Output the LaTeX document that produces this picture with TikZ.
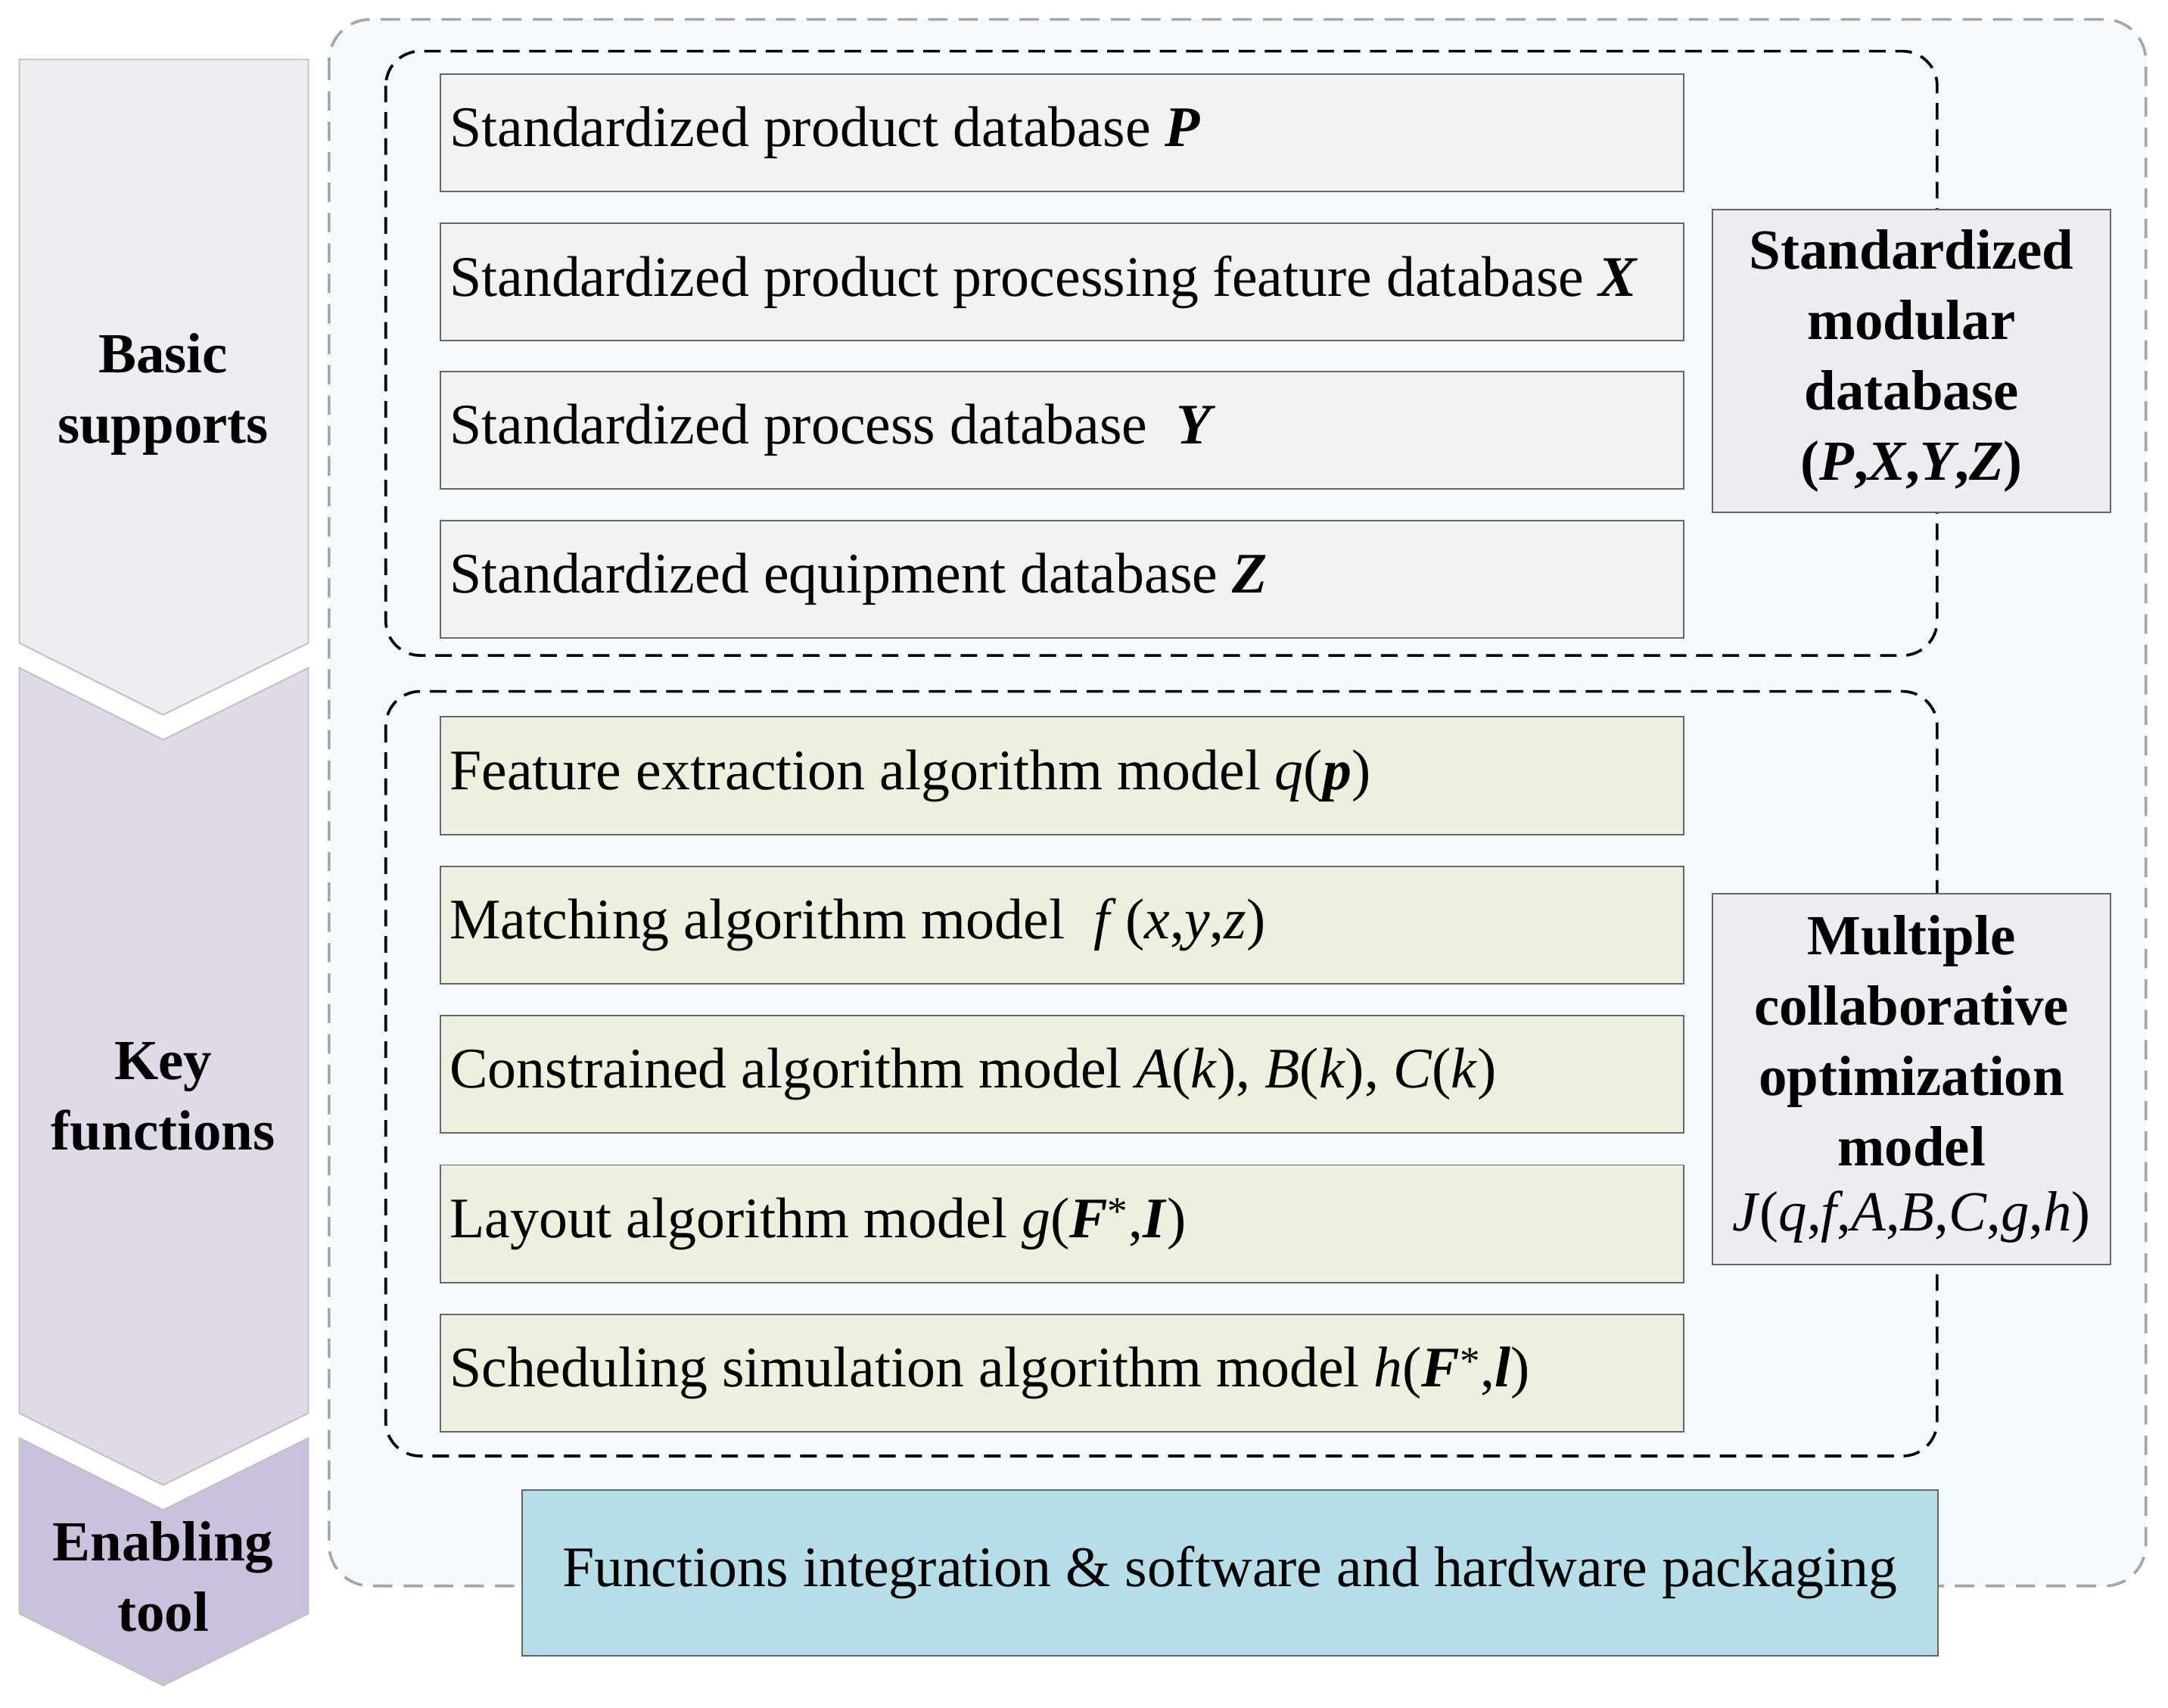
\documentclass[tikz,border=0pt]{standalone}
\usepackage{fontspec}
\setmainfont{Liberation Serif}
\begin{document}
\begin{tikzpicture}[x=1pt,y=-1pt,
  box/.style={draw=gray!80!black,line width=1pt,anchor=north west,inner sep=0pt},
  txt/.style={anchor=west,font=\fontsize{41.5}{48}\selectfont,inner sep=0pt},
  lbl/.style={align=center,font=\fontsize{41}{51}\selectfont\bfseries,inner sep=0pt}]
\definecolor{gbox}{HTML}{F2F2F2}
\definecolor{grbox}{HTML}{EBF1DE}
\definecolor{lav}{HTML}{EEEBF2}
\definecolor{a1}{HTML}{EFEDF3}
\definecolor{a2}{HTML}{DFD9E8}
\definecolor{a3}{HTML}{CCC1DC}
\definecolor{blu}{HTML}{B7DDE8}
\useasboundingbox (0,0) rectangle (1568,1235);
% outer
\draw[gray!70,dashed,line width=2pt,dash pattern=on 14pt off 8pt,fill={rgb,255:red,246;green,249;blue,251},rounded corners=30pt] (238,14) rectangle (1552,1147);
% arrows
\draw[gray!50,fill=a1,line width=1pt] (14,43)--(223,43)--(223,465)--(118,517)--(14,465)--cycle;
\draw[gray!50,fill=a2,line width=1pt] (14,483)--(118,535)--(223,483)--(223,1022)--(118,1074)--(14,1022)--cycle;
\draw[gray!50,fill=a3,line width=1pt] (14,1040)--(118,1092)--(223,1040)--(223,1167)--(118,1219)--(14,1167)--cycle;
\node[lbl] (bs) at (118,285) {Basic\\supports};
\node[lbl] (kf) at (118,793) {Key\\functions};
\node[lbl] (et) at (118,1140) {Enabling\\tool};
% dashed groups
\draw[black,dashed,line width=2pt,dash pattern=on 12pt off 7pt,rounded corners=25pt] (279,37) rectangle (1401,474);
\draw[black,dashed,line width=2pt,dash pattern=on 12pt off 7pt,rounded corners=25pt] (279,500) rectangle (1401,1053);
% top boxes
\foreach \y/\n in {53/p1,161/p2,268/p3,376/p4}{\node[box,fill=gbox,minimum width=899pt,minimum height=85pt] (\n) at (318,\y) {};}
\node[txt] at ([xshift=7pt]p1.west) {Standardized product database \textbf{\textit{P}}};
\node[txt] at ([xshift=7pt]p2.west) {Standardized product processing feature database \textbf{\textit{X}}};
\node[txt] at ([xshift=7pt]p3.west) {Standardized process database\ \ \textbf{\textit{Y}}};
\node[txt] at ([xshift=7pt]p4.west) {Standardized equipment database \textbf{\textit{Z}}};
\foreach \y/\n in {518/q1,626/q2,734/q3,842/q4,950/q5}{\node[box,fill=grbox,minimum width=899pt,minimum height=85pt] (\n) at (318,\y) {};}
\node[txt] at ([xshift=7pt]q1.west) {Feature extraction algorithm model \textit{q}(\textbf{\textit{p}})};
\node[txt] at ([xshift=7pt]q2.west) {Matching algorithm model\ \ \textit{f}\,(\textit{x},\textit{y},\textit{z})};
\node[txt] at ([xshift=7pt]q3.west) {Constrained algorithm model \textit{A}(\textit{k}), \textit{B}(\textit{k}), \textit{C}(\textit{k})};
\node[txt] at ([xshift=7pt]q4.west) {Layout algorithm model \textit{g}(\textbf{\textit{F}}\textsuperscript{*},\textbf{\textit{I}})};
\node[txt] at ([xshift=7pt]q5.west) {Scheduling simulation algorithm model \textit{h}(\textbf{\textit{F}}\textsuperscript{*},\textbf{\textit{l}})};
% right labels
\node[box,fill=lav,minimum width=288pt,minimum height=219pt] (r1) at (1238,151) {};
\node[lbl] at (r1.center) {Standardized\\modular\\database\\(\textit{P},\textit{X},\textit{Y},\textit{Z})};
\node[box,fill=lav,minimum width=288pt,minimum height=268pt] (r2) at (1238,646) {};
\node[lbl] at (r2.center) {Multiple\\collaborative\\optimization\\model\\[-4pt]\mdseries\textit{J}(\textit{q},\textit{f},\textit{A},\textit{B},\textit{C},\textit{g},\textit{h})};
% bottom
\node[box,fill=blu,minimum width=1024pt,minimum height=120pt] (fb) at (377,1077) {};
\node[font=\fontsize{41.5}{48}\selectfont,inner sep=0pt] at (fb.center) {Functions integration \& software and hardware packaging};
\end{tikzpicture}
\end{document}
